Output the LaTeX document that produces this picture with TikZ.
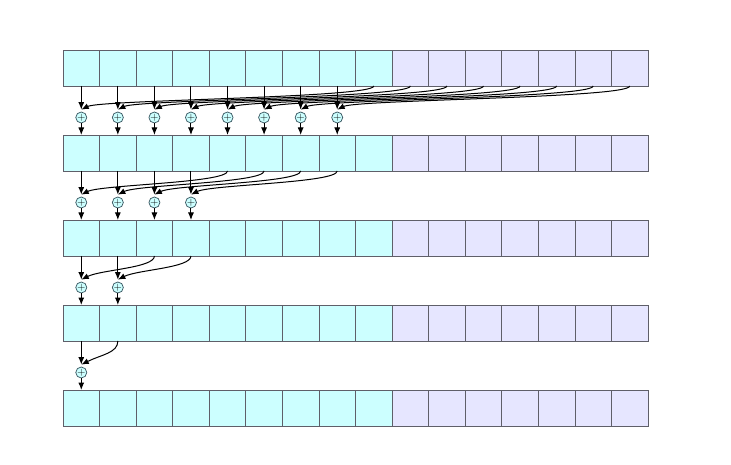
\documentclass[tikz,border=0pt]{standalone}
\usetikzlibrary{arrows.meta}
\definecolor{cyancell}{RGB}{204,255,255}
\definecolor{lavcell}{RGB}{230,230,255}
\definecolor{cellline}{RGB}{95,95,105}
\definecolor{addline}{RGB}{60,90,100}
\begin{document}
\begin{tikzpicture}[x=1pt,y=-1pt,
  cellbox/.style={draw=cellline, line width=0.75pt, minimum width=36.5625pt, minimum height=36pt, inner sep=0pt, outer sep=0pt},
  adder/.style={circle, draw=addline, fill=cyancell, line width=0.75pt, minimum size=11pt, inner sep=0pt, text=black, font=\fontsize{11}{11}\selectfont},
  arr/.style={-{Latex[length=7.5pt,width=6pt]}, line width=1pt}]
\useasboundingbox (0,0) rectangle (731,465);
\foreach \r in {1,...,5}{
  \foreach \i in {0,...,15}{
    \pgfmathsetmacro\cx{63+36.5625*(\i+0.5)}
    \pgfmathsetmacro\cy{50+85*(\r-1)+18}
    \ifnum\i<9 \def\fc{cyancell}\else\def\fc{lavcell}\fi
    \node[cellbox, fill=\fc] (c\r-\i) at (\cx,\cy) {};
  }
}
\foreach \s/\n in {1/8,2/4,3/2,4/1}{
  \pgfmathtruncatemacro\t{\s+1}
  \pgfmathtruncatemacro\m{\n-1}
  \foreach \i in {0,...,\m}{
    \pgfmathtruncatemacro\j{\i+\n}
    \pgfmathsetmacro\ax{63+36.5625*(\i+0.5)}
    \pgfmathsetmacro\ay{117.5+85*(\s-1)}
    \node[adder] (a\s-\i) at (\ax,\ay) {+};
    \coordinate (p\s-\i) at ([yshift=2pt]a\s-\i.north);
    \draw[arr] (c\s-\i.south) -- (p\s-\i);
    \draw[arr] (a\s-\i.south) -- (c\t-\i.north);
    \draw[arr] (c\s-\j.south) .. controls +(0,12) and +(20,-10) .. (p\s-\i);
  }
}
\end{tikzpicture}
\end{document}
